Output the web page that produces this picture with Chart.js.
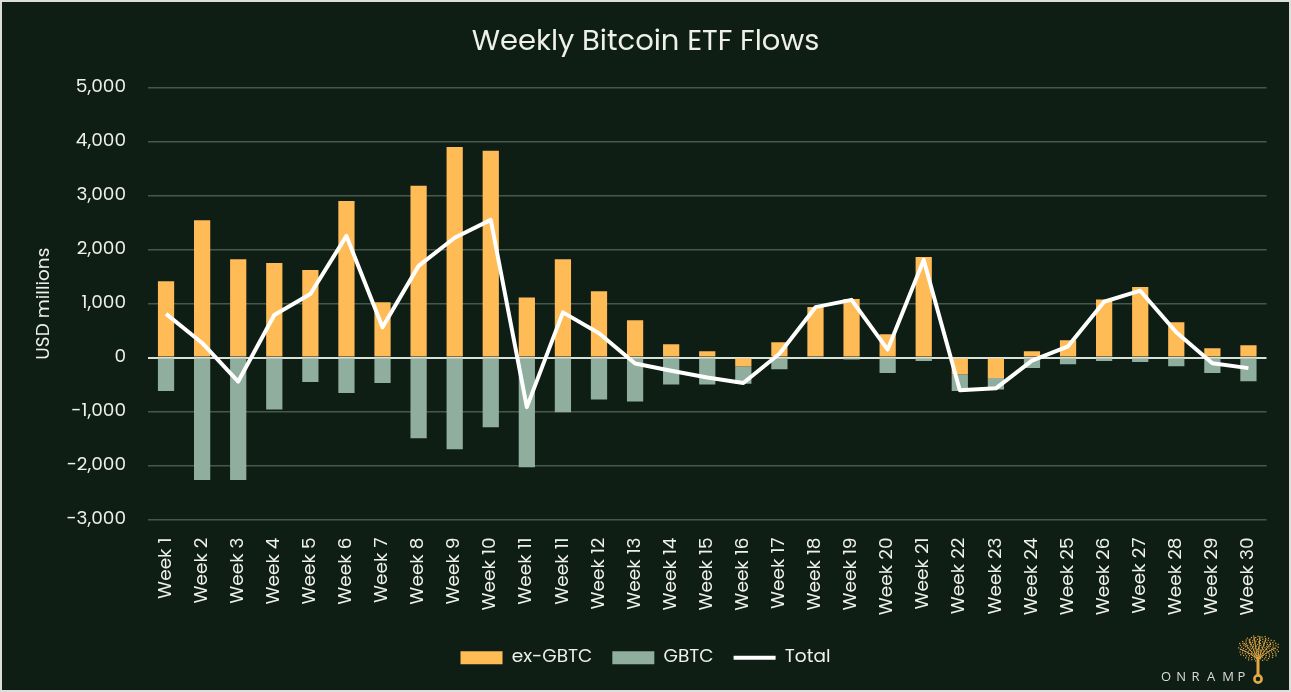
<!DOCTYPE html>
<html>
<head>
<meta charset="utf-8">
<script src="https://cdn.jsdelivr.net/npm/chart.js@4"></script>
<style>
  html, body { margin: 0; padding: 0; background: #dcdedb; }
  #wrap { position: absolute; left: 2px; top: 2px; width: 1287px; height: 688px; background: #0f1e15; }
  canvas { display: block; }
</style>
</head>
<body>
<div id="wrap"><canvas id="c" width="1287" height="688"></canvas></div>
<script>
const categories = ["Week 1","Week 2","Week 3","Week 4","Week 5","Week 6","Week 7","Week 8","Week 9","Week 10",
  "Week 11","Week 11","Week 12","Week 13","Week 14","Week 15","Week 16","Week 17","Week 18","Week 19","Week 20",
  "Week 21","Week 22","Week 23","Week 24","Week 25","Week 26","Week 27","Week 28","Week 29","Week 30"];
const exGBTC = [1413, 2546, 1822, 1753, 1623, 2900, 1028, 3184, 3903, 3835,
  1115, 1822, 1232, 693, 247, 117, -162, 285, 940, 1084, 433,
  1864, -309, -379, 117, 321, 1078, 1307, 656, 173, 229];
const gbtc = [-621, -2268, -2268, -961, -453, -658, -472, -1494, -1699, -1290,
  -2033, -1011, -775, -812, -496, -496, -321, -217, -10, -37, -286,
  -63, -312, -210, -193, -125, -63, -81, -162, -286, -440];
const total = [810, 272, -443, 790, 1180, 2255, 562, 1700, 2222, 2552,
  -918, 838, 452, -110, -242, -370, -470, 72, 935, 1070, 148,
  1810, -605, -570, -55, 210, 1035, 1240, 470, -105, -195];
const yTicks = { min: -3000, max: 5000, step: 1000 };

const textColor = '#eef0ea';
const FONT = "Poppins, 'Open Sans', 'DejaVu Sans', sans-serif";

const logoPlugin = {
  id: 'logo',
  afterDraw(chart) {
    const ctx = chart.ctx;
    ctx.save();
    ctx.fillStyle = '#d9dcd6';
    ctx.font = "13px 'Open Sans', sans-serif";
    ctx.textBaseline = 'middle';
    ctx.textAlign = 'left';
    const letters = ['O','N','R','A','M','P'];
    let x = 1159;
    letters.forEach(l => { ctx.fillText(l, x, 675); x += 15.3; });
    const gold = '#e3a845';
    ctx.strokeStyle = gold; ctx.fillStyle = gold;
    const cx = 1256;
    ctx.lineWidth = 2.6;
    ctx.beginPath(); ctx.arc(cx, 677, 3.6, 0, Math.PI * 2); ctx.stroke();
    ctx.lineWidth = 3;
    ctx.beginPath(); ctx.moveTo(cx, 673); ctx.lineTo(cx, 657); ctx.stroke();
    ctx.lineWidth = 1;
    const br = [[-14,-16],[-9,-20],[-4,-22],[2,-23],[8,-20],[13,-16],[17,-11],[-18,-10]];
    br.forEach(([dx, dy]) => {
      ctx.beginPath(); ctx.moveTo(cx, 658); ctx.quadraticCurveTo(cx + dx * 0.3, 652, cx + dx, 657 + dy); ctx.stroke();
    });
    for (let i = 0; i < 140; i++) {
      const a = i * 2.39996;
      const r = Math.sqrt(i / 140);
      ctx.fillRect(cx + Math.cos(a) * r * 21, 646 + Math.sin(a) * r * 13, 1.2, 1.2);
    }
    ctx.restore();
  }
};

new Chart(document.getElementById('c'), {
  data: {
    labels: categories,
    datasets: [
      { type: 'bar', label: 'ex-GBTC', data: exGBTC, backgroundColor: '#ffbb56', stack: 'flows',
        categoryPercentage: 1, barPercentage: 0.45, pointStyle: 'rect', order: 2 },
      { type: 'bar', label: 'GBTC', data: gbtc, backgroundColor: '#8fae9d', stack: 'flows',
        categoryPercentage: 1, barPercentage: 0.45, pointStyle: 'rect', order: 2 },
      { type: 'line', label: 'Total', data: total, borderColor: '#ffffff', backgroundColor: '#ffffff',
        borderWidth: 4, pointRadius: 0, pointHoverRadius: 0, tension: 0, stack: 'total',
        pointStyle: 'line', order: 1, borderJoinStyle: 'round' }
    ]
  },
  options: {
    responsive: false,
    animation: false,
    events: [],
    layout: { padding: { top: 0, left: 0, right: 0, bottom: 13 } },
    plugins: {
      title: {
        display: true, text: 'Weekly Bitcoin ETF Flows', color: textColor,
        font: { family: FONT, size: 29, weight: 'normal' }, padding: { top: 23, bottom: 28 }
      },
      legend: {
        position: 'bottom',
        labels: {
          color: textColor, font: { family: FONT, size: 18.5 }, usePointStyle: true,
          pointStyleWidth: 42, boxHeight: 13, padding: 20,
          sort: (a, b) => a.datasetIndex - b.datasetIndex
        }
      },
      tooltip: { enabled: false }
    },
    scales: {
      x: {
        stacked: true,
        grid: { display: false, drawTicks: false },
        border: { display: false },
        ticks: { color: textColor, font: { family: FONT, size: 18.5 }, minRotation: 90, maxRotation: 90,
          autoSkip: false, padding: 18 },
        afterFit(s) { s.height = 109; }
      },
      y: {
        stacked: true,
        min: yTicks.min, max: yTicks.max,
        ticks: { stepSize: yTicks.step, color: textColor, font: { family: FONT, size: 18.5 }, padding: 22,
          callback: v => v.toLocaleString('en-US') },
        grid: {
          drawTicks: false,
          color: ctx => ctx.tick && ctx.tick.value === 0 ? '#d9e2d8' : '#46584c',
          lineWidth: ctx => ctx.tick && ctx.tick.value === 0 ? 2 : 1.5
        },
        border: { display: false },
        title: { display: true, text: 'USD millions', color: textColor, font: { family: FONT, size: 18.5 },
          padding: { top: 31, bottom: 0 } },
        afterFit(s) { s.width = 146; }
      },
      yRight: {
        position: 'right',
        display: true,
        grid: { display: false, drawTicks: false },
        border: { display: false },
        ticks: { display: false },
        afterFit(s) { s.width = 22; }
      }
    }
  },
  plugins: [logoPlugin]
});
</script>
</body>
</html>
